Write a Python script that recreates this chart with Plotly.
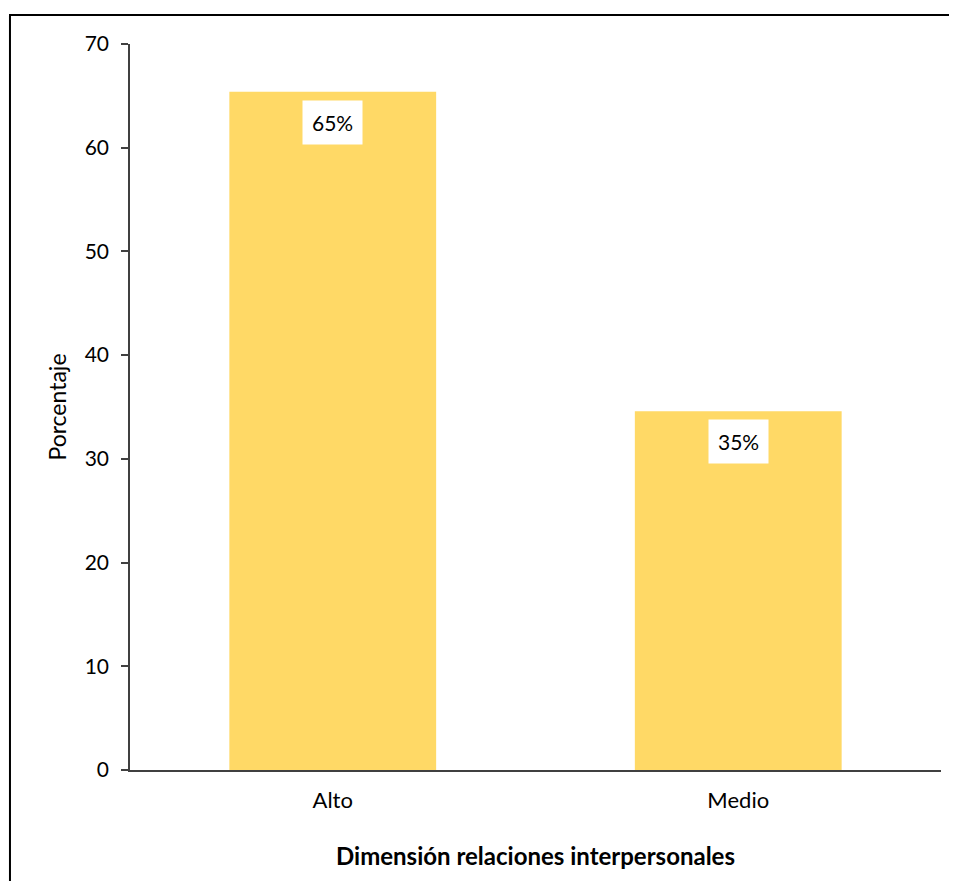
import plotly.graph_objects as go

categories = ["Alto", "Medio"]
values = [65.4, 34.6]
labels = ["65%", "35%"]

bar_color = "#FFD966"
font_family = "Lato, 'Open Sans', sans-serif"

fig = go.Figure()
fig.add_trace(go.Bar(x=categories, y=values, marker=dict(color=bar_color, line=dict(width=0)),
                     hoverinfo="skip"))

for c, v, t in zip(categories, values, labels):
    fig.add_annotation(x=c, y=v, text=t, showarrow=False, yanchor="top", yshift=-8,
                       bgcolor="white", borderpad=9,
                       font=dict(family=font_family, size=21, color="black"))

# outer frame of the chart area
fig.add_shape(type="rect", xref="paper", yref="paper", x0=-0.148, x1=1.06, y0=-0.2, y1=1.040,
              line=dict(color="black", width=2), fillcolor="rgba(0,0,0,0)", layer="below")

fig.update_layout(
    width=949, height=873,
    margin=dict(l=122, r=16, t=36, b=111),
    paper_bgcolor="white", plot_bgcolor="white",
    bargap=0.49,
    showlegend=False,
    font=dict(family=font_family, size=21, color="black"),
    xaxis=dict(
        showline=True, linecolor="#404040", linewidth=2,
        ticks="", showgrid=False, ticklabelstandoff=10,
        tickfont=dict(family=font_family, size=22, color="black"),
        title=dict(text="<b>Dimensión relaciones interpersonales</b>",
                   font=dict(family=font_family, size=24, color="black"), standoff=36),
    ),
    yaxis=dict(
        range=[0, 70], dtick=10, showgrid=False, zeroline=False,
        showline=True, linecolor="#404040", linewidth=1.5,
        ticks="outside", ticklen=7, tickcolor="#404040", tickwidth=1.5,
        ticklabelstandoff=8,
        tickfont=dict(family=font_family, size=21, color="black"),
        title=dict(text="Porcentaje", font=dict(family=font_family, size=23, color="black"), standoff=12),
    ),
)

fig.write_html("out.html")
